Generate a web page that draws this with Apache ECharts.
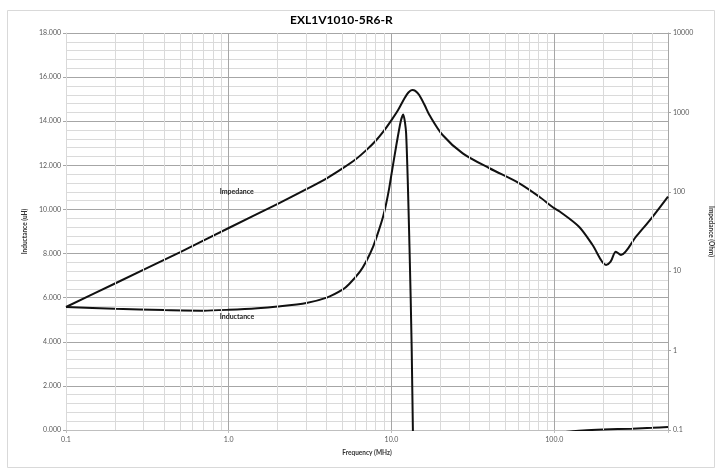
<!DOCTYPE html>
<html>
<head>
<meta charset="utf-8">
<script src="https://cdn.jsdelivr.net/npm/echarts@6/dist/echarts.min.js"></script>
<style>html,body{margin:0;padding:0;background:#fff}#c{width:717px;height:470px}</style>
</head>
<body>
<div id="c"></div>
<script>
// Impedance (Ohm), right log axis
const impFreq = [0.1, 0.2, 0.5, 1, 2, 3, 4, 5, 6, 7, 8, 9, 10, 11, 12, 12.7, 13.4, 14, 14.8, 16, 17.1, 20.6, 27.4, 40, 61, 81, 98, 108, 142, 172, 208, 222, 239, 257, 318, 402, 500];
const impValue = [3.54, 7.0, 17.3, 35, 70.5, 108, 148, 197, 255, 335, 440, 590, 800, 1080, 1500, 1780, 1914, 1870, 1656, 1230, 927, 519, 305, 198, 128, 86.7, 64, 56.5, 36.3, 21.4, 12.0, 13.2, 17.6, 16.0, 27.2, 48.5, 87];
// Inductance (uH), left linear axis
const indFreq = [0.1, 0.2, 0.4, 0.7, 1, 1.5, 2, 3, 4, 5, 5.5, 6.4, 7, 7.7, 8.4, 8.9, 9.3, 9.7, 10, 10.7, 11.4, 11.8, 12.3, 12.9, 13.3, 13.6, 14, 16, 20, 30, 50, 100, 130, 150, 200, 300, 400, 500];
const indValue = [5.58, 5.5, 5.44, 5.41, 5.45, 5.52, 5.6, 5.76, 6.0, 6.36, 6.62, 7.18, 7.65, 8.3, 9.1, 9.7, 10.3, 11.0, 11.6, 12.9, 14.0, 14.31, 13.45, 8.3, 3.8, -1.0, -5, -8, -7, -3, -1, -0.15, -0.06, -0.02, 0.02, 0.06, 0.1, 0.14];
// Ticks
const xTickValues = [0.1, 1, 10, 100];
const xTickLabels = ['0.1', '1.0', '10.0', '100.0'];
const xMinorGrid = [0.2,0.3,0.4,0.5,0.6,0.7,0.8,0.9,2,3,4,5,6,7,8,9,20,30,40,50,60,70,80,90,200,300,400];
const rightTickValues = [0.1, 1, 10, 100, 1000, 10000];
const rightTickLabels = ['0.1', '1', '10', '100', '1000', '10000'];

const FONT = 'Lato, "Open Sans", sans-serif';
const chart = echarts.init(document.getElementById('c'), null, {renderer: 'canvas'});

function pick(vals, labels, v) {
  for (let i = 0; i < vals.length; i++) {
    if (Math.abs(Math.log10(v) - Math.log10(vals[i])) < 1e-6) return labels[i];
  }
  return '';
}

chart.setOption({
  animation: false,
  backgroundColor: '#fff',
  graphic: [{
    type: 'rect', left: 5, top: 8, z: -10, silent: true,
    shape: {width: 707, height: 457},
    style: {fill: 'none', stroke: '#d9d9d9', lineWidth: 1}
  }],
  title: {
    text: 'EXL1V1010-5R6-R', left: 285, top: 9,
    textStyle: {fontFamily: FONT, fontSize: 12, fontWeight: 'bold', color: '#000'}
  },
  grid: {left: 66, right: 49, top: 33, bottom: 40, containLabel: false, outerBoundsMode: 'none'},
  xAxis: {
    type: 'log', logBase: 10, min: 0.1, max: 500,
    name: 'Frequency (MHz)', nameLocation: 'middle', nameGap: 19,
    nameTextStyle: {fontFamily: FONT, fontSize: 6.5, fontWeight: 'bold', color: '#333'},
    axisLine: {show: true, lineStyle: {color: '#bfbfbf', width: 1}},
    axisTick: {show: true, length: 3, lineStyle: {color: '#bfbfbf'}},
    axisLabel: {
      fontFamily: FONT, fontSize: 7, color: '#595959', margin: 6,
      formatter: v => pick(xTickValues, xTickLabels, v)
    },
    splitLine: {show: true, lineStyle: {color: '#a6a6a6', width: 1}}
  },
  yAxis: [{
    type: 'value', min: 0, max: 18, interval: 2, position: 'left',
    name: 'Inductance (uH)', nameLocation: 'middle', nameGap: 32, nameRotate: 90,
    nameTextStyle: {fontFamily: FONT, fontSize: 6.5, fontWeight: 'bold', color: '#333'},
    axisLine: {show: true, lineStyle: {color: '#d9d9d9'}},
    axisTick: {show: true, length: 3, lineStyle: {color: '#a6a6a6'}},
    axisLabel: {fontFamily: FONT, fontSize: 7, color: '#595959', margin: 5,
      formatter: v => v.toFixed(3)},
    splitLine: {show: true, lineStyle: {color: '#a6a6a6', width: 1}},
    minorTick: {show: false, splitNumber: 5},
    minorSplitLine: {show: true, lineStyle: {color: '#dadada', width: 1}}
  }, {
    type: 'log', logBase: 10, min: 0.1, max: 10000, position: 'right',
    name: 'Impedance (Ohm)', nameLocation: 'middle', nameGap: 40, nameRotate: -90,
    nameTextStyle: {fontFamily: FONT, fontSize: 6.5, fontWeight: 'bold', color: '#333'},
    axisLine: {show: true, lineStyle: {color: '#a6a6a6'}},
    axisTick: {show: true, length: 3, lineStyle: {color: '#a6a6a6'}},
    axisLabel: {fontFamily: FONT, fontSize: 7, color: '#595959', margin: 5,
      formatter: v => pick(rightTickValues, rightTickLabels, v)},
    splitLine: {show: false}
  }],
  series: [{
    type: 'line', name: 'grid', xAxisIndex: 0, yAxisIndex: 0, data: [], z: 1,
    silent: true,
    markLine: {
      silent: true, symbol: ['none', 'none'], label: {show: false},
      lineStyle: {color: '#dadada', width: 1, type: 'solid'},
      data: xMinorGrid.map(v => ({xAxis: v}))
    }
  }, {
    type: 'line', name: 'Impedance', xAxisIndex: 0, yAxisIndex: 1, z: 3,
    data: impFreq.map((f, i) => [f, impValue[i]]),
    smooth: 0.3, showSymbol: false,
    lineStyle: {color: '#111', width: 2}
  }, {
    type: 'line', name: 'Inductance', xAxisIndex: 0, yAxisIndex: 0, z: 3,
    data: indFreq.map((f, i) => [f, indValue[i]]),
    smooth: 0.25, showSymbol: false, clip: true,
    lineStyle: {color: '#111', width: 2},
    markPoint: {
      symbol: 'circle', symbolSize: 1, itemStyle: {color: 'rgba(0,0,0,0)'},
      label: {show: true, position: 'inside', align: 'left', verticalAlign: 'middle',
        fontFamily: FONT, fontSize: 7, fontWeight: 'bold', color: '#222',
        formatter: p => p.name},
      data: [
        {name: 'Impedance', coord: [0.88, 10.8]},
        {name: 'Inductance', coord: [0.88, 5.12]}
      ]
    }
  }]
});
</script>
</body>
</html>
